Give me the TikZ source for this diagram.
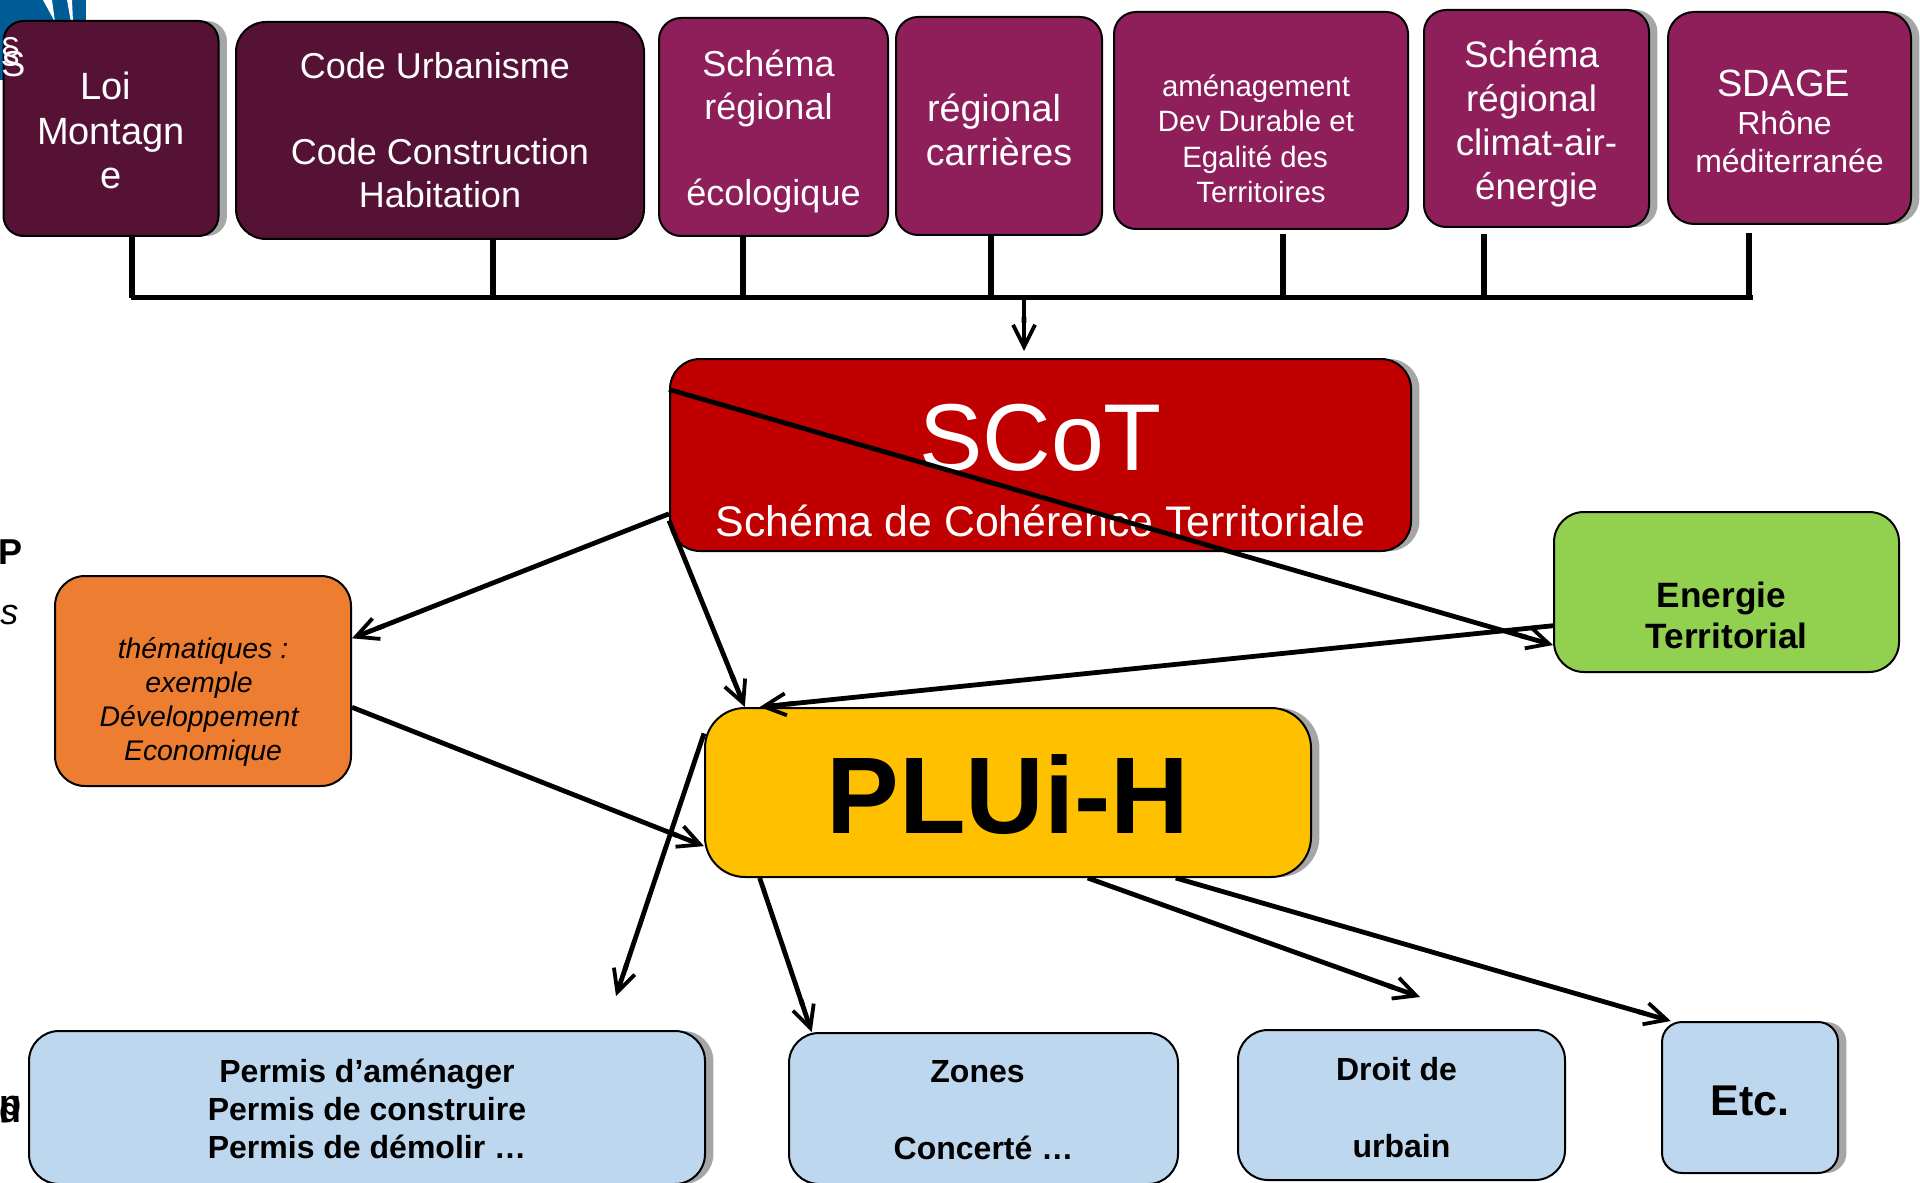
\documentclass[tikz,border=0pt]{standalone}
\usepackage{fontspec}
\setmainfont{Liberation Sans}
\usepackage{tikz}
\usetikzlibrary{arrows.meta}
\usetikzlibrary{positioning}
\usetikzlibrary{shadows}
\definecolor{darkplum}{HTML}{561235}
\definecolor{plum}{HTML}{8E1F5B}
\definecolor{scotred}{HTML}{C00000}
\definecolor{energygreen}{HTML}{92D050}
\definecolor{themeorange}{HTML}{ED7D31}
\definecolor{pluigold}{HTML}{FFC000}
\definecolor{permitblue}{HTML}{BDD7EE}
\definecolor{logoblue}{HTML}{005C97}
\definecolor{shadowgray}{HTML}{A6A6A6}
\newcommand{\lft}[2][5pt]{#2\rule{#1}{0pt}}
\newcommand{\dn}[1]{\rule{0pt}{#1}}
\tikzset{
	box/.style={draw=black, line width=1pt, rounded corners=15pt, inner sep=0pt, align=center},
	shadowed/.style={drop shadow={shadow xshift=4.2pt, shadow yshift=0pt, fill=shadowgray, opacity=1}},
	darkbox/.style={box, fill=darkplum, text=white, font=\fontsize{18}{21.5}\selectfont},
	plumbox/.style={box, rounded corners=11pt, fill=plum, text=white, font=\fontsize{18}{21.5}\selectfont},
	permitbox/.style={box, fill=permitblue, font=\bfseries\fontsize{16}{19}\selectfont},
	busline/.style={line width=2.9pt},
	arrow/.style={line width=2.4pt, -{Butt Cap[sep=0pt]Straight Barb[length=11pt, width=11pt, line width=1.9pt]}},
}
\begin{document}
\begin{tikzpicture}[x=0.5pt, y=-0.5pt]
	\useasboundingbox (0,0) rectangle (1920,1182);

	\fill[logoblue] (0,0) rectangle (86,80);
	\fill[white] (43,0) -- (52,0) -- (55,22) -- cycle;
	\fill[white] (67,0) -- (72,0) -- (73,22) -- (71,22) -- cycle;

	\node[darkbox, shadowed, rounded corners=10pt, font=\fontsize{19}{22.3}\selectfont, minimum width=107.5pt, minimum height=107.5pt] (loi) at (111,128.5) {\dn{16pt}\lft[5.5pt]{Loi}\\Montagn\\e};
	\node[darkbox, minimum width=204pt, minimum height=108.5pt] (code) at (440,130.5) {\lft{Code Urbanisme}\\[21.5pt]Code Construction\\Habitation};
	\node[plumbox, minimum width=114.5pt, minimum height=109pt] (ecolo) at (773.5,127) {\dn{18pt}\lft{Schéma}\\\lft{régional}\\[21.5pt]écologique};
	\node[plumbox, font=\fontsize{18.8}{22}\selectfont, minimum width=103pt, minimum height=109pt] (carrieres) at (999,126) {\dn{18pt}\lft{régional}\\carrières};
	\node[plumbox, font=\fontsize{14.7}{17.7}\selectfont, minimum width=147pt, minimum height=108.5pt] (amenag) at (1261,120.5) {\dn{29pt}\lft{aménagement}\\\lft[5pt]{Dev Durable et}\\\lft[6pt]{Egalité des}\\Territoires};
	\node[plumbox, shadowed, font=\fontsize{18.4}{22}\selectfont, minimum width=112.5pt, minimum height=108.5pt] (climat) at (1536.5,118.5) {\dn{19pt}\lft{Schéma}\\\lft{régional}\\climat-air-\\énergie};
	\node[plumbox, shadowed, rounded corners=13pt, font=\fontsize{16}{19}\selectfont, minimum width=121.5pt, minimum height=106pt] (sdage) at (1789.5,118) {\dn{16.5pt}\lft[6pt]{{\fontsize{19}{22.5}\selectfont SDAGE}}\\\lft[5pt]{Rhône}\\méditerranée};

	\coordinate (busl) at (131,297.5);
	\coordinate (busr) at (1753,297.5);
	\coordinate (busm) at (1024,297.5);
	\coordinate (scottop) at (1024,351);
	\draw[busline] (busl) -- (busr);
	\foreach \name/\x/\gap in {loi/132/0pt, code/493/0pt, ecolo/743/0pt, carrieres/991/0pt, amenag/1283/2pt, climat/1484/3pt, sdage/1749/4pt}
		\draw[busline, shorten <=\gap] (\name.south -| \x,0) -- (\x,297.5);

	\node[box, shadowed, fill=scotred, text=white, minimum width=370.5pt, minimum height=96pt] (scot) at (1040.5,455) {\dn{48.5pt}{\fontsize{47.5}{54}\selectfont SCoT}\\[15.5pt]{\fontsize{21.4}{25}\selectfont Schéma de Cohérence Territoriale}};
	\node[box, fill=energygreen, font=\bfseries\fontsize{17.6}{20.8}\selectfont, minimum width=172.5pt, minimum height=80pt] (energie) at (1726.5,592) {\dn{36pt}\lft{Energie}\\Territorial};
	\node[box, fill=themeorange, font=\itshape\fontsize{14.2}{17}\selectfont, minimum width=148pt, minimum height=105pt] (theme) at (203,681) {\dn{31pt}thématiques :\\\lft[4pt]{exemple}\\\lft[4pt]{Développement}\\Economique};
	\node[box, shadowed, rounded corners=20pt, fill=pluigold, font=\bfseries\fontsize{54.5}{60}\selectfont, minimum width=303pt, minimum height=84.5pt] (pluih) at (1008,792.5) {\dn{41.5pt}PLUi-H};

	\node[permitbox, shadowed, minimum width=338pt, minimum height=76.5pt] (permis) at (367,1107.5) {\dn{13pt}Permis d’aménager\\Permis de construire\\Permis de démolir …};
	\node[permitbox, minimum width=194.5pt, minimum height=75.5pt] (zones) at (983.5,1108.5) {\dn{13pt}\lft[6pt]{Zones}\\[19.5pt]Concerté …};
	\node[permitbox, minimum width=163.5pt, minimum height=75pt] (droit) at (1401.5,1105) {\dn{14.5pt}\lft{Droit de}\\[19.5pt]urbain};
	\node[permitbox, shadowed, rounded corners=10pt, font=\bfseries\fontsize{21.5}{25}\selectfont, minimum width=88pt, minimum height=75.5pt] (etc) at (1750,1097.5) {\dn{18pt}Etc.};

	\node[text=white, font=\fontsize{18}{21}\selectfont, anchor=west, inner sep=0pt] (paraa) at (0,52) {§};
	\node[text=white, font=\fontsize{18}{21}\selectfont, anchor=west, inner sep=0pt] (essa) at (1,64) {S};
	\node[font=\bfseries\fontsize{18}{21}\selectfont, anchor=west, inner sep=0pt] (peea) at (-2,552) {P};
	\node[font=\itshape\fontsize{18}{21}\selectfont, anchor=west, inner sep=0pt] (essb) at (0,615) {s};
	\foreach \letter/\name in {p/pa, d/pb}
		\node[font=\bfseries\fontsize{18}{21}\selectfont, anchor=west, inner sep=0pt] (\name) at (-1,1110) {\letter};

	\coordinate (permisend) at (616,996);
	\coordinate (droitend) at (1420,997);
	\draw[arrow] (busm) -- (scottop);
	\draw[arrow] (scot.170) -- (energie.197);
	\draw[arrow] (scot.189) -- (theme.16);
	\draw[arrow] (scot.190) -- (pluih.162);
	\draw[arrow] (energie.191) -- (pluih.161);
	\draw[arrow] (theme.-10) -- (pluih.190);
	\draw[arrow] (pluih.169) -- (permisend);
	\draw[arrow] (pluih.199) -- (zones.156);
	\draw[arrow] (pluih.-47) -- (droitend);
	\draw[arrow] (pluih.-27) -- (etc.136);
\end{tikzpicture}
\end{document}
